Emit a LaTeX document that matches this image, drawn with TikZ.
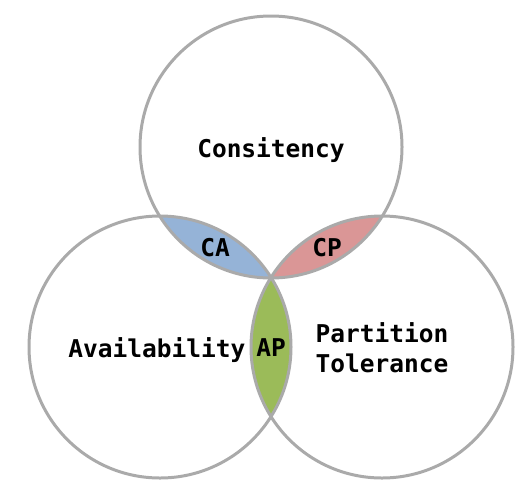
\documentclass[tikz,border=0pt]{standalone}
\usepackage{fontspec}
\usepackage{xcolor}
\newfontfamily\capmono{DejaVu Sans Mono}
\definecolor{ringgray}{RGB}{170,170,170}
\definecolor{cablue}{RGB}{149,179,215}
\definecolor{cpred}{RGB}{218,150,150}
\definecolor{apgreen}{RGB}{155,187,89}

\begin{document}
\begin{tikzpicture}[x=1pt,y=-1pt,
  ring/.style={draw=ringgray,line width=3pt},
  lbl/.style={font=\capmono\bfseries\fontsize{24.5}{30}\selectfont,inner sep=0pt,anchor=base}]
  % 画布
  \useasboundingbox (0,0) rectangle (532,499);

  % 圆心
  \def\rad{131pt}
  \coordinate (cons) at (271,147);
  \coordinate (avail) at (160,347);
  \coordinate (part) at (382,347);

  % 两两交集
  \begin{scope}
    \clip (cons) circle (\rad);
    \fill[cablue] (avail) circle (\rad);
  \end{scope}
  \begin{scope}
    \clip (cons) circle (\rad);
    \fill[cpred] (part) circle (\rad);
  \end{scope}
  \begin{scope}
    \clip (avail) circle (\rad);
    \fill[apgreen] (part) circle (\rad);
  \end{scope}

  % 三个圆
  \draw[ring] (cons) circle (\rad);
  \draw[ring] (avail) circle (\rad);
  \draw[ring] (part) circle (\rad);

  % 文字
  \node[lbl] (consT) at (271,157) {Consitency};
  \node[lbl] (availT) at (157,357) {Availability};
  \node[lbl] (partT) at (382,342) {Partition};
  \node[lbl] (tolT) at (382,372) {Tolerance};
  \node[lbl] (caT) at (215,256) {CA};
  \node[lbl] (cpT) at (327,256) {CP};
  \node[lbl] (apT) at (271,356) {AP};
\end{tikzpicture}
\end{document}
